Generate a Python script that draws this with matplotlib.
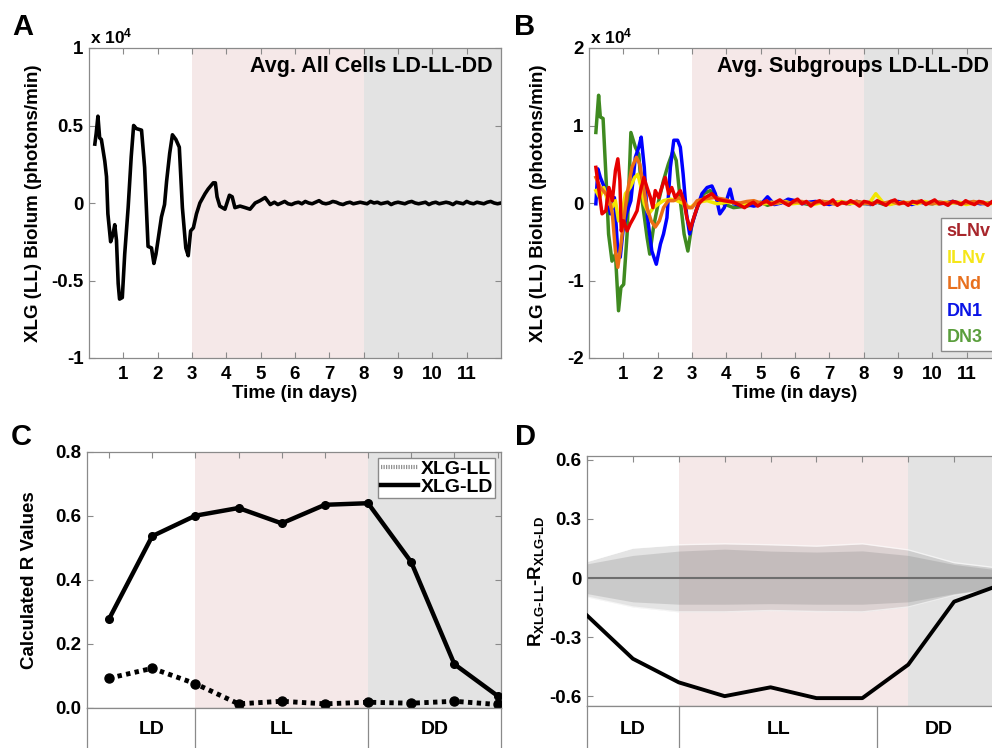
import numpy as np
import matplotlib
matplotlib.use("Agg")
from matplotlib import pyplot as plt

plt.rcParams['font.family'] = 'Liberation Sans'
plt.rcParams['font.weight'] = 'bold'
plt.rcParams['axes.labelweight'] = 'bold'
plt.rcParams['axes.unicode_minus'] = False
plt.rcParams['mathtext.fontset'] = 'custom'
plt.rcParams['mathtext.rm'] = 'Liberation Sans:bold'
plt.rcParams['mathtext.bf'] = 'Liberation Sans:bold'
plt.rcParams['mathtext.default'] = 'rm'

# -------------------------
# data (x1e4 photons/min, time in days)
# -------------------------
a_t = [0.17, 0.21, 0.26, 0.31, 0.36, 0.46, 0.51, 0.55, 0.63, 0.70, 0.75, 0.80, 0.85, 0.89,
       0.97, 1.04, 1.14, 1.23, 1.30, 1.38, 1.53, 1.62, 1.72, 1.82, 1.89, 1.95, 2.01, 2.11,
       2.20, 2.26, 2.35, 2.43, 2.53, 2.63, 2.72, 2.82, 2.89, 2.96, 3.04, 3.13, 3.23, 3.38,
       3.47, 3.62, 3.68, 3.73, 3.81, 3.96, 4.09, 4.17, 4.25, 4.40, 4.55, 4.69, 4.84, 4.98,
       5.13, 5.28]
a_v = [0.38, 0.45, 0.56, 0.42, 0.41, 0.27, 0.17, -0.07, -0.25, -0.20, -0.14, -0.24, -0.52, -0.62,
       -0.61, -0.33, -0.03, 0.30, 0.50, 0.48, 0.47, 0.23, -0.28, -0.29, -0.39, -0.33, -0.24, -0.09,
       -0.01, 0.14, 0.32, 0.44, 0.41, 0.36, -0.03, -0.29, -0.34, -0.18, -0.16, -0.07, 0.0, 0.06,
       0.09, 0.13, 0.13, 0.04, -0.02, -0.04, 0.05, 0.04, -0.03, -0.02, -0.03, -0.04, 0.0, 0.015,
       0.035, -0.01]
a_tail = [0.005, -0.01, 0.0, 0.01, -0.005, -0.01, 0.0, 0.005, -0.005, 0.01, 0.0, -0.005, 0.005,
          0.015, 0.0, -0.005, 0.0, 0.01, 0.005, -0.005, -0.01, 0.0, 0.005, -0.005, 0.0, 0.005,
          0.0, -0.005, 0.01, 0.0, 0.005, -0.005, 0.0, 0.005, -0.01, 0.0, 0.005, 0.0, -0.005,
          0.005, 0.01, 0.0, -0.005, 0.0, 0.005, -0.01, 0.0, 0.005, -0.005, 0.0, 0.005, 0.0, -0.01,
          0.005, 0.0, -0.005, 0.01, 0.0, -0.005, 0.005, 0.0, -0.005, 0.005, 0.01, 0.0, -0.005, 0.0]

# subgroups (panel B)
dn3_t = [0.20, 0.28, 0.33, 0.41, 0.50, 0.57, 0.67, 0.77, 0.86, 0.93, 1.01, 1.11, 1.22, 1.35,
         1.45, 1.55, 1.69, 1.77, 1.88, 2.03, 2.17, 2.31, 2.44, 2.54, 2.66, 2.77, 2.88, 3.00,
         3.15, 3.34, 3.53, 3.73, 3.92, 4.21]
dn3_v = [0.91, 1.39, 1.11, 1.09, 0.29, -0.40, -0.75, -0.66, -1.39, -1.09, -1.05, -0.40, 0.91, 0.72,
         0.63, 0.03, -0.44, -0.66, -0.31, 0.03, 0.29, 0.50, 0.66, 0.55, 0.03, -0.40, -0.62, -0.27,
         -0.06, 0.12, 0.16, 0.07, -0.01, -0.06]
dn3_tail = [-0.05, -0.04, -0.02, 0.01, -0.03, 0.0, 0.02, -0.01, 0.01, 0.0, -0.02, 0.01, 0.02, 0.0,
            -0.01, 0.01, 0.0, 0.02, -0.01, 0.0, 0.01, -0.02, 0.0, 0.01, 0.0, -0.01, 0.02, 0.0,
            -0.01, 0.01, 0.0, 0.02, -0.01, 0.0, 0.01, 0.0, -0.01, 0.01, 0.0]

dn1_t = [0.20, 0.26, 0.33, 0.45, 0.54, 0.62, 0.74, 0.83, 0.91, 0.99, 1.09, 1.22, 1.35, 1.45,
         1.52, 1.61, 1.69, 1.83, 1.96, 2.08, 2.17, 2.27, 2.37, 2.47, 2.58, 2.66, 2.74, 2.84,
         2.93, 3.03, 3.15, 3.29, 3.44, 3.58, 3.68, 3.81, 3.94, 4.11, 4.21]
dn1_v = [-0.01, 0.44, 0.33, 0.20, 0.07, -0.14, 0.07, -0.57, -0.70, -0.36, -0.14, 0.03, 0.59, 0.72,
         0.85, 0.46, -0.14, -0.62, -0.79, -0.53, -0.40, -0.19, 0.46, 0.81, 0.81, 0.72, 0.38, -0.14,
         -0.40, -0.23, -0.06, 0.12, 0.20, 0.22, 0.12, -0.14, -0.06, 0.18, -0.01]
dn1_tail = [-0.03, -0.02, -0.04, -0.02, 0.08, -0.02, 0.0, 0.05, 0.03, -0.01, 0.01, 0.02, 0.0, -0.02,
            0.01, 0.0, -0.01, 0.02, 0.0, -0.02, 0.01, 0.0, -0.01, 0.02, 0.0, -0.02, 0.01, 0.0,
            0.01, -0.01, 0.0, 0.02, -0.01, 0.0, 0.01, -0.01, 0.0, 0.01, 0.0]

llnv_t = [0.20, 0.31, 0.43, 0.54, 0.67, 0.77, 0.86, 0.96, 1.06, 1.20, 1.33, 1.42, 1.52, 1.61,
          1.74, 1.88, 2.03, 2.17, 2.37, 2.56, 2.76, 2.95, 3.15, 3.44, 3.73, 4.02]
llnv_v = [0.16, 0.07, 0.20, 0.03, -0.06, 0.03, -0.23, -0.14, 0.12, 0.20, 0.33, 0.37, 0.20, -0.01,
          -0.14, -0.06, -0.01, 0.03, 0.05, 0.03, -0.01, -0.06, 0.01, 0.03, -0.01, 0.01]
llnv_tail = [0.0, -0.02, 0.01, 0.0, -0.01, 0.01, 0.0, 0.02, -0.01, 0.0, 0.01, -0.02, 0.0, 0.01,
             0.0, 0.02, -0.01, 0.0, 0.01, -0.01, 0.12, 0.01, -0.02, 0.0, 0.01, 0.0, -0.01, 0.02,
             0.0, -0.01, 0.01, 0.0, 0.01, -0.02, 0.0, 0.01, 0.0, -0.01, 0.0]

lnd_t = [0.20, 0.33, 0.49, 0.58, 0.68, 0.77, 0.84, 0.92, 1.01, 1.11, 1.25, 1.38, 1.48, 1.57,
         1.69, 1.81, 1.93, 2.05, 2.17, 2.31, 2.47, 2.61, 2.76, 2.87, 3.00, 3.15, 3.34, 3.63,
         3.92, 4.21]
lnd_v = [0.33, 0.20, 0.12, 0.07, -0.14, -0.62, -0.83, -0.57, -0.23, 0.12, 0.46, 0.59, 0.50, 0.25,
         -0.06, -0.23, -0.31, -0.23, -0.06, 0.03, 0.03, 0.07, 0.03, -0.06, -0.06, 0.03, 0.05, 0.07,
         0.05, 0.01]
lnd_tail = [0.0, 0.02, 0.03, 0.0, 0.01, -0.01, 0.02, 0.0, 0.01, 0.02, -0.01, 0.0, 0.02, 0.01,
            -0.02, 0.0, 0.01, 0.02, 0.0, -0.01, 0.01, 0.0, 0.02, -0.01, 0.0, 0.01, 0.02, 0.0,
            -0.01, 0.01, 0.0, 0.01, -0.01, 0.0, 0.02, 0.0, -0.01, 0.01, 0.0]

slnv_t = [0.20, 0.28, 0.38, 0.49, 0.58, 0.68, 0.77, 0.84, 0.90, 0.94, 1.01, 1.11, 1.20, 1.30,
          1.40, 1.50, 1.60, 1.69, 1.79, 1.86, 1.93, 2.03, 2.12, 2.22, 2.32, 2.41, 2.51, 2.66,
          2.76, 2.85, 2.95, 3.05, 3.19, 3.38, 3.58, 3.73, 3.92, 4.21]
slnv_v = [0.46, 0.20, -0.14, -0.10, 0.20, 0.03, 0.42, 0.57, 0.29, -0.36, -0.23, -0.36, -0.27, -0.19,
          -0.10, 0.16, 0.33, 0.20, 0.07, -0.06, 0.16, 0.07, 0.20, 0.33, 0.12, 0.20, 0.07, 0.16,
          0.03, -0.19, -0.34, -0.19, -0.01, 0.07, 0.12, 0.05, 0.03, 0.01]
slnv_tail = [-0.03, -0.06, -0.02, 0.01, -0.04, 0.0, 0.03, -0.02, 0.01, 0.04, 0.0, -0.03, 0.02, 0.05,
             -0.01, 0.02, -0.04, 0.01, 0.03, -0.02, 0.0, 0.04, -0.03, 0.01, -0.01, 0.03, 0.0, -0.04,
             0.02, 0.01, -0.02, 0.03, 0.0, -0.03, 0.02, 0.04, -0.01, 0.01, -0.03, 0.02, 0.0, 0.03,
             -0.02, 0.01, 0.04, -0.01, 0.0, -0.03, 0.02, 0.01, -0.02, 0.03, 0.0, -0.02, 0.02, 0.01,
             -0.03, 0.02, 0.0, -0.01]

groups = ['sLNv', 'lLNv', 'LNd', 'DN1', 'DN3']
group_line_colors = ['#e60000', '#f2e600', '#ec6e14', '#0000ff', '#3f8a20']
group_text_colors = ['#a8262c', '#f5e61a', '#e8701e', '#0a14e6', '#5a9e3c']

# panel C / D (windows 1..10)
windows = [1, 2, 3, 4, 5, 6, 7, 8, 9, 10]
r_xlg_ld = [0.278, 0.537, 0.601, 0.625, 0.577, 0.635, 0.640, 0.456, 0.137, 0.038]
r_xlg_ll = [0.093, 0.124, 0.076, 0.013, 0.021, 0.013, 0.018, 0.015, 0.021, 0.011]
r_diff = [-0.19, -0.41, -0.53, -0.60, -0.555, -0.61, -0.61, -0.44, -0.12, -0.035]
outer_hi = [0.084, 0.152, 0.169, 0.174, 0.169, 0.162, 0.174, 0.143, 0.078, 0.05]
inner_hi = [0.072, 0.115, 0.137, 0.147, 0.137, 0.132, 0.138, 0.115, 0.069, 0.04]
inner_lo = [-0.079, -0.121, -0.133, -0.133, -0.130, -0.133, -0.133, -0.121, -0.079, -0.045]
outer_lo = [-0.096, -0.147, -0.172, -0.172, -0.165, -0.170, -0.172, -0.147, -0.088, -0.055]

PINK = '#f5e8e8'
GRAY = '#e3e3e3'
SPINE = '#8a8a8a'
TICK_FS = 13.5

W, H = 992, 748
fig = plt.figure(figsize=(W / 100, H / 100), dpi=100)


def frac(l, t, r, b):
    return [l / W, 1 - b / H, (r - l) / W, (b - t) / H]


def style(ax):
    for s in ax.spines.values():
        s.set_color(SPINE)
        s.set_linewidth(0.9)
    ax.tick_params(direction='in', length=4, color=SPINE, labelsize=TICK_FS,
                   top=True, right=True)
    ax.tick_params(axis='x', pad=6)
    ax.tick_params(axis='y', pad=4)


def series(t, v, tail, t0, t1):
    tt = np.concatenate([t, np.linspace(t0, t1, len(tail))])
    vv = np.concatenate([v, tail])
    return tt, vv


# ---------- A ----------
axA = fig.add_axes(frac(89, 48, 501, 358))
axA.axvspan(3, 8, color=PINK, lw=0, zorder=0)
axA.axvspan(8, 12, color=GRAY, lw=0, zorder=0)
tA, vA = series(a_t, a_v, a_tail, 5.4, 12.0)
axA.plot(tA, vA, color='black', lw=2.6, zorder=3)
axA.set_xlim(0, 12)
axA.set_ylim(-1, 1)
axA.set_xticks(range(1, 12))
axA.set_yticks([-1, -0.5, 0, 0.5, 1])
axA.set_yticklabels(['-1', '-0.5', '0', '0.5', '1'])
style(axA)
axA.set_xlabel('Time (in days)', fontsize=13.5)
axA.xaxis.set_label_coords(0.5, -0.088)
axA.set_ylabel('XLG (LL) Biolum (photons/min)', fontsize=13.5)
axA.yaxis.set_label_coords(-0.114, 0.5)
axA.text(0.98, 0.975, 'Avg. All Cells LD-LL-DD', transform=axA.transAxes,
         ha='right', va='top', fontsize=15.5)

# ---------- B ----------
axB = fig.add_axes(frac(589, 48, 1001, 358))
axB.axvspan(3, 8, color=PINK, lw=0, zorder=0)
axB.axvspan(8, 12, color=GRAY, lw=0, zorder=0)
b_data = {
    'DN3': series(dn3_t, dn3_v, dn3_tail, 4.4, 12.0),
    'DN1': series(dn1_t, dn1_v, dn1_tail, 4.4, 12.0),
    'lLNv': series(llnv_t, llnv_v, llnv_tail, 4.3, 12.0),
    'LNd': series(lnd_t, lnd_v, lnd_tail, 4.4, 12.0),
    'sLNv': series(slnv_t, slnv_v, slnv_tail, 4.4, 12.0),
}
handles = {}
for name in ['DN3', 'DN1', 'lLNv', 'LNd', 'sLNv']:
    c = group_line_colors[groups.index(name)]
    tt, vv = b_data[name]
    handles[name], = axB.plot(tt, vv, color=c, lw=2.5, zorder=3)
axB.set_xlim(0, 12)
axB.set_ylim(-2, 2)
axB.set_xticks(range(1, 12))
axB.set_yticks([-2, -1, 0, 1, 2])
axB.set_yticklabels(['-2', '-1', '0', '1', '2'])
style(axB)
axB.set_xlabel('Time (in days)', fontsize=13.5)
axB.xaxis.set_label_coords(0.5, -0.088)
axB.set_ylabel('XLG (LL) Biolum (photons/min)', fontsize=13.5)
axB.yaxis.set_label_coords(-0.102, 0.5)
axB.text(0.972, 0.975, 'Avg. Subgroups LD-LL-DD', transform=axB.transAxes,
         ha='right', va='top', fontsize=15.5)
legB = axB.legend([handles[g] for g in groups], groups, loc='upper left',
                  bbox_to_anchor=(941 / W, 1 - 218 / H), bbox_transform=fig.transFigure,
                  borderaxespad=0, handlelength=0, handletextpad=0, fontsize=13,
                  labelspacing=0.52, borderpad=0.3, fancybox=False, framealpha=1,
                  edgecolor=SPINE, labelcolor=group_text_colors)
for h in legB.legend_handles:
    h.set_visible(False)

# ---------- C ----------
axC = fig.add_axes(frac(87, 452, 501, 708))
axC.axvspan(3, 7, color=PINK, lw=0, zorder=0)
axC.axvspan(7, 10.1, color=GRAY, lw=0, zorder=0)
axC.plot(windows, r_xlg_ll, color='black', lw=3.5, ls=(0, (0.9, 0.9)), marker='o',
         markersize=6.5, label='XLG-LL', zorder=3)
axC.plot(windows, r_xlg_ld, color='black', lw=3.2, marker='o', markersize=5.5,
         label='XLG-LD', zorder=3)
axC.set_xlim(0.49, 10.08)
axC.set_ylim(0, 0.8)
axC.set_xticks(windows)
axC.set_xticklabels([])
axC.set_yticks([0, 0.2, 0.4, 0.6, 0.8])
axC.set_yticklabels(['0.0', '0.2', '0.4', '0.6', '0.8'])
style(axC)
axC.tick_params(axis='x', bottom=False)
axC.set_ylabel('Calculated R Values', fontsize=13.5)
axC.yaxis.set_label_coords(-0.118, 0.5)
legC = axC.legend(loc='upper right', fontsize=14, handlelength=1.9, handletextpad=0.15,
                  labelspacing=0.02, borderpad=0.12, borderaxespad=0.3, fancybox=False,
                  framealpha=1, edgecolor=SPINE)
legC.legend_handles[0].set_color('#909090')
legC.legend_handles[0].set_linewidth(3)
legC.legend_handles[0].set_linestyle((0, (0.3, 0.3)))
for h in legC.legend_handles:
    h.set_marker('')

bandC = fig.add_axes(frac(87, 708, 501, 752))
bandC.set_xlim(0.49, 10.08)
bandC.set_ylim(0, 1)
for x in [3, 7]:
    bandC.axvline(x, color=SPINE, lw=0.9)
for s in bandC.spines.values():
    s.set_color(SPINE)
    s.set_linewidth(0.9)
bandC.set_xticks([])
bandC.set_yticks([])
for x, lab in [(2, 'LD'), (5, 'LL'), (8.54, 'DD')]:
    bandC.text(x, 0.5, lab, ha='center', va='center', fontsize=14)

# ---------- D ----------
axD = fig.add_axes(frac(587, 456, 1000, 706))
axD.axvspan(3, 8, color=PINK, lw=0, zorder=0)
axD.axvspan(8, 10, color=GRAY, lw=0, zorder=0)
axD.fill_between(windows, outer_lo, outer_hi, color='#7a7a7a', alpha=0.2, lw=0, zorder=1)
axD.fill_between(windows, inner_lo, inner_hi, color='#7a7a7a', alpha=0.24, lw=0, zorder=1)
axD.plot(windows, outer_hi, color='white', lw=1, alpha=0.6, zorder=1)
axD.plot(windows, outer_lo, color='white', lw=1, alpha=0.6, zorder=1)
axD.axhline(0, color='#6e6e6e', lw=1.5, zorder=2)
axD.plot(windows, r_diff, color='black', lw=2.8, zorder=3)
axD.set_xlim(1, 10)
axD.set_ylim(-0.65, 0.62)
axD.set_xticks(windows)
axD.set_xticklabels([])
axD.set_yticks([-0.6, -0.3, 0, 0.3, 0.6])
axD.set_yticklabels(['-0.6', '-0.3', '0', '0.3', '0.6'])
style(axD)
axD.tick_params(axis='x', bottom=False)
axD.set_ylabel(r'$\mathrm{R_{XLG\text{-}LL}\text{-}R_{XLG\text{-}LD}}$', fontsize=13.5)
axD.yaxis.set_label_coords(-0.1, 0.5)

bandD = fig.add_axes(frac(587, 706, 1000, 752))
bandD.set_xlim(1, 10)
bandD.set_ylim(0, 1)
for x in [3, 7.33]:
    bandD.axvline(x, color=SPINE, lw=0.9)
for s in bandD.spines.values():
    s.set_color(SPINE)
    s.set_linewidth(0.9)
bandD.set_xticks([])
bandD.set_yticks([])
for x, lab in [(2, 'LD'), (5.17, 'LL'), (8.67, 'DD')]:
    bandD.text(x, 0.5, lab, ha='center', va='center', fontsize=14)

# ---------- panel letters, exponents ----------
for x, y, lab in [(12, 35, 'A'), (514, 35, 'B'), (11, 445, 'C'), (515, 445, 'D')]:
    fig.text(x / W, 1 - y / H, lab, fontsize=21, va='baseline', ha='left')
for x in [90, 590]:
    fig.text(x / W, 1 - 43 / H, r'x 10$^{4}$', fontsize=12.5, va='baseline', ha='left')

fig.savefig('out.png', dpi=100)
